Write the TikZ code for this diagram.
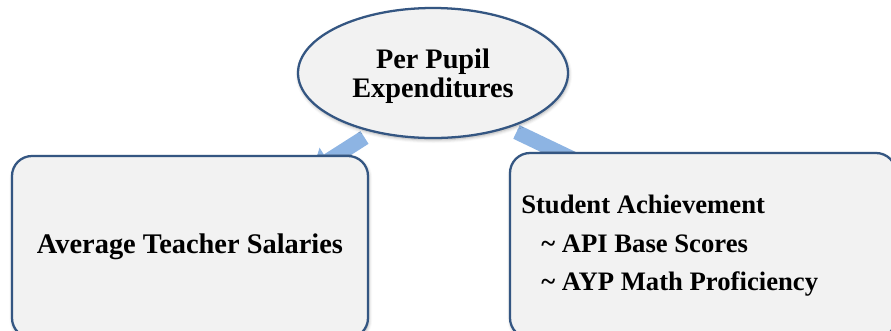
\documentclass[tikz,border=0pt]{standalone}
\usepackage{fontspec}
\setmainfont{Liberation Serif}
\usetikzlibrary{arrows.meta,shapes.geometric,shadows.blur}
\definecolor{boxfill}{RGB}{242,242,242}
\definecolor{boxline}{RGB}{52,86,130}
\definecolor{linkblue}{RGB}{141,180,227}
\begin{document}
\begin{tikzpicture}[x=0.75pt,y=-0.75pt,
  soft shadow/.style={blur shadow={shadow xshift=0.6pt, shadow yshift=-1.4pt,
      shadow blur radius=2.5pt, shadow opacity=35}},
  shapebase/.style={draw=boxline, line width=1.7pt, fill=boxfill, soft shadow},
  topic/.style={shapebase, ellipse, inner sep=0pt,
      minimum width=202.5pt, minimum height=97.5pt,
      align=center, font=\bfseries\fontsize{21.2}{22}\selectfont},
  panel/.style={shapebase, rectangle, rounded corners=15pt, inner sep=0pt},
  paneltext/.style={font=\bfseries\fontsize{21.3}{25}\selectfont, inner sep=0pt},
  itemtext/.style={font=\bfseries\fontsize{20}{24}\selectfont, inner sep=0pt, anchor=base west},
  link/.style={draw=linkblue, line width=11.25pt,
      -{Triangle[width=22.5pt, length=13.5pt]}}
]
\clip (0,0) rectangle (891,330);

% block arrows, drawn first so the panels cover their heads
\coordinate (l-start) at (364.5,137.5);
\coordinate (l-end)   at (312.7,170.5);
\coordinate (r-start) at (516.5,132);
\coordinate (r-end)   at (615.5,179.3);
\draw[link] (l-start) -- (l-end);
\draw[link] (r-start) -- (r-end);

% lower panels
\node[panel, minimum width=267pt, minimum height=136.5pt] (salaries) at (190,247) {};
\node[paneltext] (salaries-text) at (190,247) {Average Teacher Salaries};

\node[panel, minimum width=289.5pt, minimum height=138.75pt] (achievement) at (703,245.5) {};
\node[itemtext] (ach-title) at (521,213) {Student Achievement};
\node[itemtext] (ach-api)   at (541,252) {\textasciitilde{} API Base Scores};
\node[itemtext] (ach-ayp)   at (541,290) {\textasciitilde{} AYP Math Proficiency};

% top topic
\node[topic] (expend) at (433,73) {};
\node[align=center, inner sep=0pt, font=\bfseries\fontsize{21.2}{22}\selectfont]
  (expend-text) at (433,76) {Per Pupil\\Expenditures};
\end{tikzpicture}
\end{document}
